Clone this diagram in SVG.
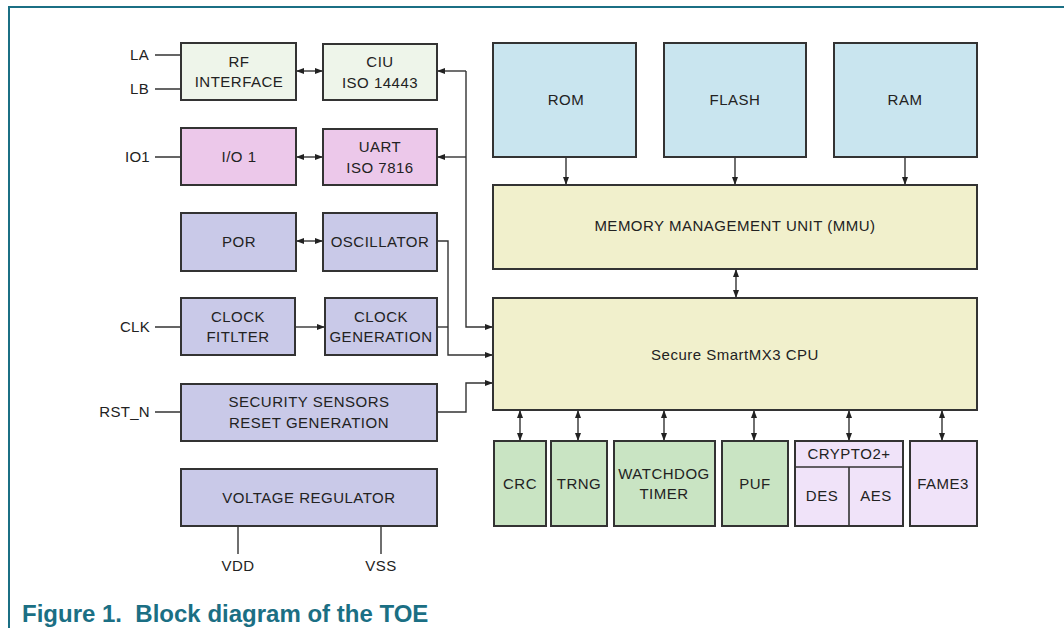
<svg xmlns="http://www.w3.org/2000/svg" width="1064" height="628" viewBox="0 0 1064 628">
<defs>
<marker id="ah" viewBox="0 0 8 6" refX="8" refY="3" markerWidth="8" markerHeight="6" markerUnits="userSpaceOnUse" orient="auto-start-reverse">
<path d="M0,0 L8,3 L0,6 z" fill="#222"/>
</marker>
<style>
.b{stroke:#333;stroke-width:2}
.t{font-family:"Liberation Sans",Arial,sans-serif;font-size:15px;letter-spacing:0.5px;fill:#222;text-anchor:middle}
.l{font-family:"Liberation Sans",Arial,sans-serif;font-size:15px;letter-spacing:0.3px;fill:#222;text-anchor:end}
.c{fill:none;stroke:#333;stroke-width:1.4}
.g1{fill:#eef5ea}.pk{fill:#ecc8ea}.lv{fill:#c9c9e8}.bl{fill:#c9e5ef}.yl{fill:#f1f0cc}.gr{fill:#c9e4c3}.pu{fill:#f0e3f9}
</style>
</defs>
<rect width="1064" height="628" fill="#fff"/>
<path d="M9,628 V7 H1064" fill="none" stroke="#1b6f84" stroke-width="2"/>

<g id="connectors">
<path class="c" d="M155,55 H181 M155,89 H181 M155,157 H181 M155,327 H181 M155,412 H181 M238,526 V554 M381,526 V554"/>
<path class="c" d="M296,71 H323" marker-start="url(#ah)" marker-end="url(#ah)"/>
<path class="c" d="M296,157 H323" marker-start="url(#ah)" marker-end="url(#ah)"/>
<path class="c" d="M296,241 H323" marker-start="url(#ah)" marker-end="url(#ah)"/>
<path class="c" d="M295,327 H325" marker-end="url(#ah)"/>
<path class="c" d="M466,71 H437" marker-end="url(#ah)"/>
<path class="c" d="M466,157 H437" marker-end="url(#ah)"/>
<path class="c" d="M466,71 V327 H493" marker-end="url(#ah)"/>
<path class="c" d="M437,241 H448 V355 H493" marker-end="url(#ah)"/>
<path class="c" d="M437,327 H448"/>
<path class="c" d="M437,412 H466 V383 H493" marker-end="url(#ah)"/>
<path class="c" d="M566,157 V185" marker-end="url(#ah)"/>
<path class="c" d="M735,157 V185" marker-end="url(#ah)"/>
<path class="c" d="M905,157 V185" marker-end="url(#ah)"/>
<path class="c" d="M736,269 V298" marker-start="url(#ah)" marker-end="url(#ah)"/>
<path class="c" d="M520,410 V441" marker-start="url(#ah)" marker-end="url(#ah)"/>
<path class="c" d="M578,410 V441" marker-start="url(#ah)" marker-end="url(#ah)"/>
<path class="c" d="M664,410 V441" marker-start="url(#ah)" marker-end="url(#ah)"/>
<path class="c" d="M754,410 V441" marker-start="url(#ah)" marker-end="url(#ah)"/>
<path class="c" d="M849,410 V441" marker-start="url(#ah)" marker-end="url(#ah)"/>
<path class="c" d="M942,410 V441" marker-start="url(#ah)" marker-end="url(#ah)"/>
</g>

<g id="labels">
<text class="l" x="149" y="60">LA</text>
<text class="l" x="149" y="94">LB</text>
<text class="l" x="150" y="162">IO1</text>
<text class="l" x="150" y="332">CLK</text>
<text class="l" x="150" y="417">RST_N</text>
<text class="t" x="238" y="571">VDD</text>
<text class="t" x="381" y="571">VSS</text>
</g>

<g id="rf"><rect class="b g1" x="181" y="43" width="115" height="57"/><text class="t" x="239" y="67">RF</text><text class="t" x="239" y="87">INTERFACE</text></g>
<g id="ciu"><rect class="b g1" x="323" y="44" width="114" height="56"/><text class="t" x="380" y="67">CIU</text><text class="t" x="380" y="88">ISO 14443</text></g>
<g id="io1"><rect class="b pk" x="181" y="128" width="115" height="57"/><text class="t" x="239" y="162">I/O 1</text></g>
<g id="uart"><rect class="b pk" x="323" y="129" width="114" height="56"/><text class="t" x="380" y="152">UART</text><text class="t" x="380" y="173">ISO 7816</text></g>
<g id="por"><rect class="b lv" x="181" y="213" width="115" height="58"/><text class="t" x="239" y="247">POR</text></g>
<g id="osc"><rect class="b lv" x="323" y="213" width="114" height="58"/><text class="t" x="380" y="247">OSCILLATOR</text></g>
<g id="clkf"><rect class="b lv" x="181" y="298" width="114" height="57"/><text class="t" x="238" y="322">CLOCK</text><text class="t" x="238" y="342">FITLTER</text></g>
<g id="clkg"><rect class="b lv" x="325" y="298" width="112" height="57"/><text class="t" x="381" y="322">CLOCK</text><text class="t" x="381" y="342">GENERATION</text></g>
<g id="sec"><rect class="b lv" x="181" y="384" width="256" height="57"/><text class="t" x="309" y="407">SECURITY SENSORS</text><text class="t" x="309" y="428">RESET GENERATION</text></g>
<g id="vreg"><rect class="b lv" x="181" y="469" width="256" height="57"/><text class="t" x="309" y="503">VOLTAGE REGULATOR</text></g>

<g id="rom"><rect class="b bl" x="493" y="43" width="143" height="114"/><text class="t" x="566" y="105">ROM</text></g>
<g id="flash"><rect class="b bl" x="664" y="43" width="142" height="114"/><text class="t" x="735" y="105">FLASH</text></g>
<g id="ram"><rect class="b bl" x="834" y="43" width="143" height="114"/><text class="t" x="905" y="105">RAM</text></g>
<g id="mmu"><rect class="b yl" x="493" y="185" width="484" height="84"/><text class="t" x="735" y="231">MEMORY MANAGEMENT UNIT (MMU)</text></g>
<g id="cpu"><rect class="b yl" x="493" y="298" width="484" height="112"/><text class="t" x="735" y="360">Secure SmartMX3 CPU</text></g>

<g id="crc"><rect class="b gr" x="494" y="441" width="52" height="85"/><text class="t" x="520" y="489">CRC</text></g>
<g id="trng"><rect class="b gr" x="551" y="441" width="56" height="85"/><text class="t" x="579" y="489">TRNG</text></g>
<g id="wdt"><rect class="b gr" x="614" y="441" width="101" height="85"/><text class="t" x="664" y="479">WATCHDOG</text><text class="t" x="664" y="499">TIMER</text></g>
<g id="puf"><rect class="b gr" x="722" y="441" width="66" height="85"/><text class="t" x="755" y="489">PUF</text></g>
<g id="crypto"><rect class="b pu" x="795" y="441" width="108" height="85"/><path d="M795,467 H903 M849,467 V526" stroke="#333" stroke-width="1.6"/><text class="t" x="849" y="459">CRYPTO2+</text><text class="t" x="822" y="501">DES</text><text class="t" x="876" y="501">AES</text></g>
<g id="fame3"><rect class="b pu" x="910" y="441" width="67" height="85"/><text class="t" x="943" y="489">FAME3</text></g>

<text x="22" y="622" xml:space="preserve" font-family="'Liberation Sans',Arial,sans-serif" font-size="24" font-weight="bold" fill="#1b6f84">Figure 1.  Block diagram of the TOE</text>
</svg>
